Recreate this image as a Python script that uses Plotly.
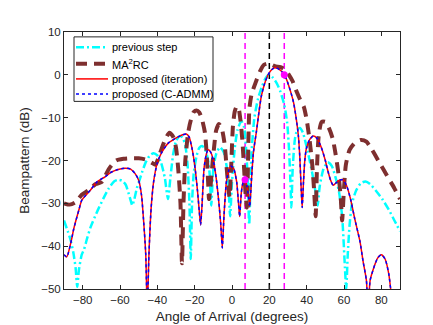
import plotly.graph_objects as go

# ---------------- data ----------------
prev_ang = [-90, -88, -86.5, -85, -83.8, -82.9, -82, -80.5, -79.3, -77.5, -75.7, -72, -68.6, -66,
            -63.2, -61, -59, -57, -55.5, -54.3, -53.4, -52.3, -51, -49.8, -48, -46.3, -44, -42,
            -40, -38, -36, -34.3, -33, -31.5, -30, -28, -26.5, -25, -23.8, -22.8, -22.1, -21.4,
            -20.5, -19, -17.5, -16, -14.5, -13, -12, -11.1, -10, -8.5, -6.5, -4.5, -3, -2, -1,
            0, 1.5, 3, 5, 6.5, 7.5, 8.5, 9.2, 10.5, 12, 14, 16, 18, 19.8, 22, 24, 26, 28, 29.5,
            30.5, 31.3, 31.8, 32.5, 33.7, 35, 36.4, 38, 40.9, 43, 45, 45.9, 47, 49, 51.3, 53.5,
            55.5, 57.2, 59, 60.5, 61.2, 62, 63, 64.3, 66.5, 69, 71.5, 74, 77, 80.5, 84, 87, 90]
prev_db = [-34, -36.5, -38.5, -41.5, -45, -49.5, -45.5, -42, -40.8, -38, -35.5, -31.7, -28.6, -26.5,
           -24.9, -24.5, -24.7, -25.6, -27.5, -29.3, -30.5, -29, -26.5, -24.9, -22.5, -20.5, -18.8, -18.3,
           -18.8, -20.5, -24, -29, -24, -18.5, -15.5, -14.3, -14.6, -16.5, -21, -30, -43, -30,
           -23, -19, -17, -16.6, -17.3, -19.5, -23, -30.5, -22, -18.5, -16.9, -18, -21, -25, -33,
           -25, -17, -12.8, -10.8, -12.3, -17, -25, -35, -18, -10, -5.5, -2.8, -0.8, 0, -0.7, -2, -4, -7, -11,
           -17, -25, -31, -22, -15, -12.8, -12.4, -13.5, -18.6, -23, -28, -30.5, -26, -22, -20.4, -21.3,
           -24, -27, -33, -45, -50, -42, -35, -30, -27, -25.3, -24.9, -25.5, -27, -29, -31.5, -34, -36.5]

ma_ang = [-90, -87, -84, -80.5, -77, -73, -69.8, -66, -62, -58, -55, -50, -46, -43, -41, -39.5, -37.5,
          -35.5, -33.5, -31.5, -30, -28.8, -27.6, -26.8, -26, -25, -23.5, -22, -20.5, -19, -17.5, -16,
          -14.5, -13.5, -12.8, -12.3, -11.5, -10.5, -9.5, -8.5, -7, -5.5, -4, -3, -2, -1.3, -0.5, 0.5,
          1.5, 2.5, 3.5, 4.5, 5.5, 6.5, 7.3, 8, 8.6, 9.3, 10.5, 12.5, 15, 17, 19, 21, 23, 26, 28.5, 30.5,
          32.5, 34.5, 36.5, 38.5, 40, 41.5, 43, 44, 44.8, 45.5, 46.5, 48, 50, 52, 54, 55.5, 57, 58.3, 59,
          59.8, 61, 63, 66, 69, 72, 75, 79, 83, 87, 90]
ma_db = [-30, -30.3, -29.8, -28, -27, -25.5, -25, -22, -20, -19.6, -19.5, -19.5, -19.8, -20.5, -21, -19.5, -17,
         -14.8, -13.5, -14.5, -17, -22, -30, -44, -30, -20, -13.5, -10.5, -8.7, -8.3, -8.8, -10.5,
         -13.5, -19, -25, -29, -26, -21, -16.5, -13, -11.5, -12.5, -16, -21, -26, -28.5, -22, -12,
         -8.5, -7.4, -7.8, -10.5, -15, -22, -28, -31, -20, -8, -4.5, -2, 0.8, 2.3, 2.6, 2.4, 2, 1.8, 1.2, 0,
         -1.5, -3.8, -5.8, -7.5, -10.5, -15, -21, -27, -33, -22, -14, -11, -11, -12.5, -15, -18.5, -23, -29, -34,
         -28, -21, -17.5, -15.8, -15.2, -15.6, -17.5, -20.5, -23.5, -26.5, -29]

prop_ang = [-90, -88.5, -86, -84.8, -82, -80.4, -76, -72.3, -68, -65, -61, -57, -54.3, -52, -50, -48.5,
            -47.2, -46.2, -45.4, -44.5, -43.3, -42, -40, -37.5, -34.3, -31, -28.9, -26.5, -24.5, -23,
            -21.5, -20, -18.5, -17.5, -16.8, -16, -15, -14, -12.9, -11.5, -10, -8.5, -7, -6, -5.2, -4.3,
            -3, -1.5, -0.4, 1, 2.5, 3.5, 4.1, 5, 6, 7, 8, 9, 9.5, 10.5, 11.5, 13, 14.5, 15.7, 17.5, 19.3,
            21.2, 23.2, 25.5, 28.2, 30, 31.8, 33, 34.5, 35.5, 36.3, 37.1, 37.6, 38.3, 39, 39.8, 41.5, 43.5,
            45.5, 47.9, 50, 51.4, 53, 54.2, 55.5, 57.5, 59.5, 61.5, 63.5, 65.7, 68.6, 70.2, 72, 72.9, 74,
            75.6, 78, 80, 82, 84, 85.5, 86.5, 88, 90]
prop_db = [-42, -42.5, -38.5, -36, -31.5, -29.2, -27, -25, -23.8, -22.8, -22.1, -21.8, -22, -23, -24.6, -28,
           -35, -42, -55, -42, -31, -25, -20.5, -18, -16, -15, -14.5, -14, -13.8, -14.5,
           -17, -21, -27, -32, -35, -30, -22, -19, -17.5, -18, -20, -24, -30, -35, -40.4, -33,
           -25, -22, -21.3, -22, -25, -30, -33.1, -27.5, -25, -24.5, -26, -29, -30.8, -24, -18, -13.5, -8.5, -5, -2, 0,
           1.2, 1.7, 1.2, 0, -2, -4.5, -6.5, -10.5, -14, -19, -27, -31, -25, -20, -17.3, -15.2, -14.3,
           -14.8, -17, -20, -22.5, -24.8, -25.8, -25.3, -24.6, -24.5, -26, -29, -33.5, -39, -43.5, -48, -55, -48,
           -45.5, -42.8, -42, -43, -46.5, -52, -56, -55, -53]

marker_ang = [7, 28]
marker_db = [-24.5, 0]
black_line = [20]
magenta_lines = [7, 28]

x_ticks = [-80, -60, -40, -20, 0, 20, 40, 60, 80]
y_ticks = [-50, -40, -30, -20, -10, 0, 10]

legend_names = ["previous step", "MA<sup>2</sup>RC", "proposed (iteration)", "proposed (C-ADMM)"]

# ---------------- styles ----------------
FONT = "Liberation Sans, Arial"
styles = [
    dict(color="#00FFFF", width=2.5, dash="8px,3px,2px,3px"),
    dict(color="#7E2F2F", width=4, dash="11px,7px"),
    dict(color="#FF0000", width=1.5, dash="solid"),
    dict(color="#0000FF", width=1.5, dash="dot"),
]

fig = go.Figure()

for xv in magenta_lines:
    fig.add_trace(go.Scatter(x=[xv, xv], y=[-50, 10], mode="lines", showlegend=False,
                             line=dict(color="#FF00FF", width=1.5, dash="6px,4px")))
for xv in black_line:
    fig.add_trace(go.Scatter(x=[xv, xv], y=[-50, 10], mode="lines", showlegend=False,
                             line=dict(color="#000000", width=1.5, dash="6px,4px")))

series = [(prev_ang, prev_db), (ma_ang, ma_db), (prop_ang, prop_db), (prop_ang, prop_db)]
for (xs, ys), st, nm in zip(series, styles, legend_names):
    fig.add_trace(go.Scatter(x=xs, y=ys, mode="lines", name=nm, showlegend=False,
                             line=dict(shape="spline", smoothing=0.6, **st)))

fig.add_trace(go.Scatter(x=marker_ang, y=marker_db, mode="markers", showlegend=False,
                         marker=dict(color="#FF00FF", size=7)))

# ---------------- legend box drawn in paper coordinates ----------------
L, R, T, B = 56, 392, 24, 287   # plot-area pixel edges


def px(xp):
    return (xp - L) / (R - L)


def py(yp):
    return (B - yp) / (B - T)


shapes = [dict(type="rect", xref="paper", yref="paper", x0=px(66), x1=px(205), y0=py(95), y1=py(29),
               line=dict(color="#262626", width=1), fillcolor="white", layer="above")]
annotations = []
rows = [39.5, 56.5, 72, 87.5]
for nm, st, ry in zip(legend_names, styles, rows):
    shapes.append(dict(type="line", xref="paper", yref="paper", x0=px(68), x1=px(100),
                       y0=py(ry), y1=py(ry), layer="above",
                       line=dict(color=st["color"], width=st["width"], dash=st["dash"])))
    annotations.append(dict(xref="paper", yref="paper", x=px(102), y=py(ry), xanchor="left",
                            yanchor="middle", text=nm, showarrow=False,
                            font=dict(family=FONT, size=11, color="#000000")))

axis_common = dict(showline=True, linecolor="#262626", linewidth=1, mirror="ticks",
                   ticks="inside", ticklen=4, tickcolor="#262626", showgrid=False,
                   zeroline=False, tickfont=dict(family=FONT, size=11.5, color="#262626"))

fig.update_xaxes(range=[-90, 90], tickvals=x_ticks,
                 title=dict(text="Angle of Arrival (degrees)", standoff=6,
                            font=dict(family=FONT, size=13.5, color="#262626")),
                 **axis_common)
fig.update_yaxes(range=[-50, 10], tickvals=y_ticks,
                 title=dict(text="Beampattern (dB)", standoff=8,
                            font=dict(family=FONT, size=13.5, color="#262626")),
                 **axis_common)

fig.update_layout(
    width=433, height=325,
    margin=dict(l=L, r=433 - R, t=T, b=325 - B),
    plot_bgcolor="white", paper_bgcolor="white",
    font=dict(family=FONT, color="#262626"),
    showlegend=False,
    shapes=shapes,
    annotations=annotations,
)

fig.write_html("out.html")
